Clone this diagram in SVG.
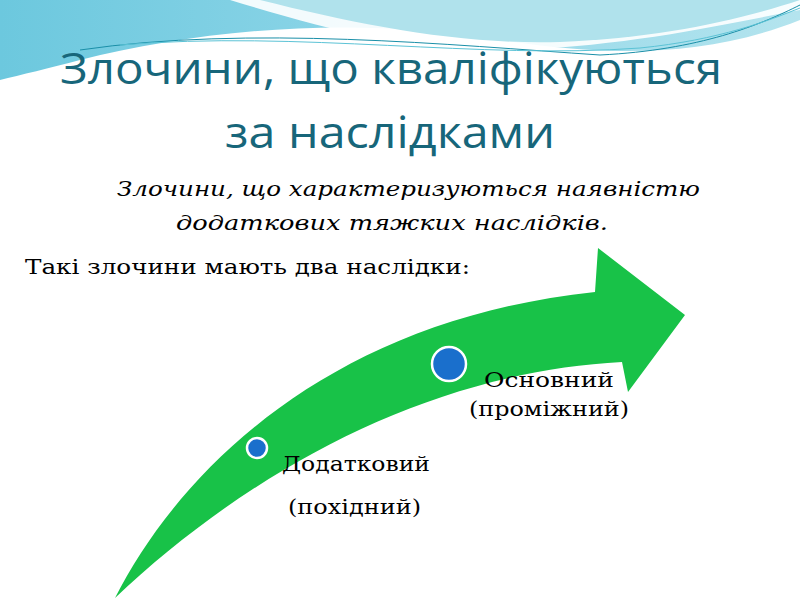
<svg xmlns="http://www.w3.org/2000/svg" width="800" height="600" viewBox="0 0 800 600">
<defs>
<linearGradient id="sky" x1="0" y1="0" x2="1" y2="0"><stop offset="0" stop-color="#6cc8de"/><stop offset="0.5" stop-color="#8fd6e8"/><stop offset="1" stop-color="#b4e4ee"/></linearGradient>
<style>
.t{font-family:"Open Sans","Liberation Sans",sans-serif;fill:#17667a;font-size:44px}
.s{font-family:"DejaVu Serif","Liberation Serif",serif;fill:#000;font-size:21px}
</style>
</defs>
<rect width="800" height="600" fill="#fff"/>
<path d="M0,0 H800 V20 C700,60 600,55 500,40 C350,15 200,30 80,60 C50,68 20,75 0,80 Z" fill="url(#sky)"/>
<path d="M230,0 C330,30 420,55 520,50 C640,44 720,25 800,10 V0 Z" fill="#fff" opacity="0.9"/>
<path d="M260,0 C360,25 460,45 560,42 C660,38 740,20 800,0 Z" fill="#b0e2ec"/>
<path d="M80,50 C250,25 450,45 600,55 C700,50 760,25 800,5" fill="none" stroke="#1a8fa8" stroke-width="1"/>
<path d="M120,45 C300,30 480,60 640,48 C720,40 770,20 800,8" fill="none" stroke="#5cc3d6" stroke-width="1"/>
<text class="t" x="60" y="84" textLength="662" lengthAdjust="spacingAndGlyphs">Злочини, що кваліфікуються</text>
<text class="t" x="225" y="148" textLength="330" lengthAdjust="spacingAndGlyphs">за наслідками</text>
<text class="s" x="117" y="196" font-style="italic" textLength="583" lengthAdjust="spacingAndGlyphs">Злочини, що характеризуються  наявністю</text>
<text class="s" x="176" y="230" font-style="italic" textLength="432" lengthAdjust="spacingAndGlyphs">додаткових тяжких наслідків.</text>
<text class="s" x="25" y="274" textLength="445" lengthAdjust="spacingAndGlyphs">Такі злочини мають два наслідки:</text>
<g id="arrow"><path d="M115,598 C180,470 330,320 595,292 L598,248 L685,315 L628,392 L622,362 C430,372 250,470 115,598 Z" fill="#18c248"/></g>
<g id="n1"><circle cx="257" cy="448" r="10" fill="#1a6fcc" stroke="#fff" stroke-width="2.5"/>
<text class="s" x="282" y="471" textLength="148" lengthAdjust="spacingAndGlyphs">Додатковий</text>
<text class="s" x="288" y="514" textLength="133" lengthAdjust="spacingAndGlyphs">(похідний)</text></g>
<g id="n2"><circle cx="449" cy="364" r="17" fill="#1a6fcc" stroke="#fff" stroke-width="2.5"/>
<text class="s" x="484" y="387" textLength="130" lengthAdjust="spacingAndGlyphs">Основний</text>
<text class="s" x="469" y="416" textLength="160" lengthAdjust="spacingAndGlyphs">(проміжний)</text></g>
<g id="connectors"/>
</svg>
